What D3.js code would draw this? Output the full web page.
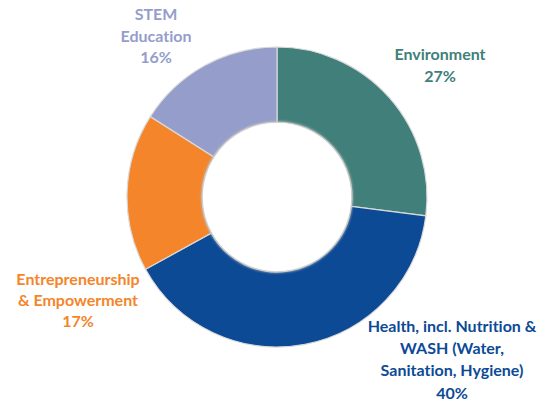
<!DOCTYPE html>
<html>
<head>
<meta charset="utf-8">
<script src="https://cdn.jsdelivr.net/npm/d3@7"></script>
<style>
  body { margin: 0; background: #fff; }
  text { font-family: Lato, "Open Sans", sans-serif; font-weight: bold; font-variant-ligatures: none; }
</style>
</head>
<body>
<div id="chart"></div>
<script>
// Data
var categories = ["Environment", "Health", "Entrepreneurship", "STEM"];
var values = [27, 40, 17, 16];
var labelLines = [
    ["Environment", "27%"],
    ["Health, incl. Nutrition &", "WASH (Water,", "Sanitation, Hygiene)", "40%"],
    ["Entrepreneurship", "& Empowerment", "17%"],
    ["STEM", "Education", "16%"]
];
var colors = ["#41807A", "#0C4A96", "#F4852A", "#959DCB"];

// Chart dimensions
var width = 546, height = 403;
var cx = 277, cy = 197;
var outerR = 150, innerR = 75;
// label anchor (center x, first baseline y) and line height
var labelPos = [[440, 60], [452, 332], [78, 285], [156, 20]];
var lineH = [22, 22.2, 21, 21.5];

var svg = d3.select("#chart").append("svg")
    .attr("width", width)
    .attr("height", height);

var defs = svg.append("defs");
var f = defs.append("filter").attr("id", "blur")
    .attr("x", "-20%").attr("y", "-20%").attr("width", "140%").attr("height", "140%");
f.append("feGaussianBlur").attr("stdDeviation", 1.2);

var g = svg.append("g")
    .attr("transform", "translate(" + cx + "," + cy + ")");

var pie = d3.pie().sort(null).value(function(d) { return d; });
var arc = d3.arc().innerRadius(innerR).outerRadius(outerR);

g.selectAll("path.slice")
    .data(pie(values))
    .enter()
    .append("path")
    .attr("class", "slice")
    .attr("d", arc)
    .style("fill", function(d, i) { return colors[i]; })
    .style("stroke", "#d9d9d9")
    .style("stroke-width", 1.2);

// soft inner edge
g.append("circle")
    .attr("r", innerR)
    .style("fill", "none")
    .style("stroke", "#bbb")
    .style("stroke-width", 1.5)
    .attr("filter", "url(#blur)");
g.append("circle")
    .attr("r", innerR - 1)
    .style("fill", "#fff");

// Labels
var labels = svg.selectAll("text.label")
    .data(labelLines)
    .enter()
    .append("text")
    .attr("class", "label")
    .attr("text-anchor", "middle")
    .style("font-size", "16px")
    .style("fill", function(d, i) { return colors[i]; });

labels.each(function(lines, i) {
    var t = d3.select(this);
    lines.forEach(function(line, j) {
        t.append("tspan")
            .attr("x", labelPos[i][0])
            .attr("y", labelPos[i][1] + j * lineH[i])
            .text(line);
    });
});
</script>
</body>
</html>
